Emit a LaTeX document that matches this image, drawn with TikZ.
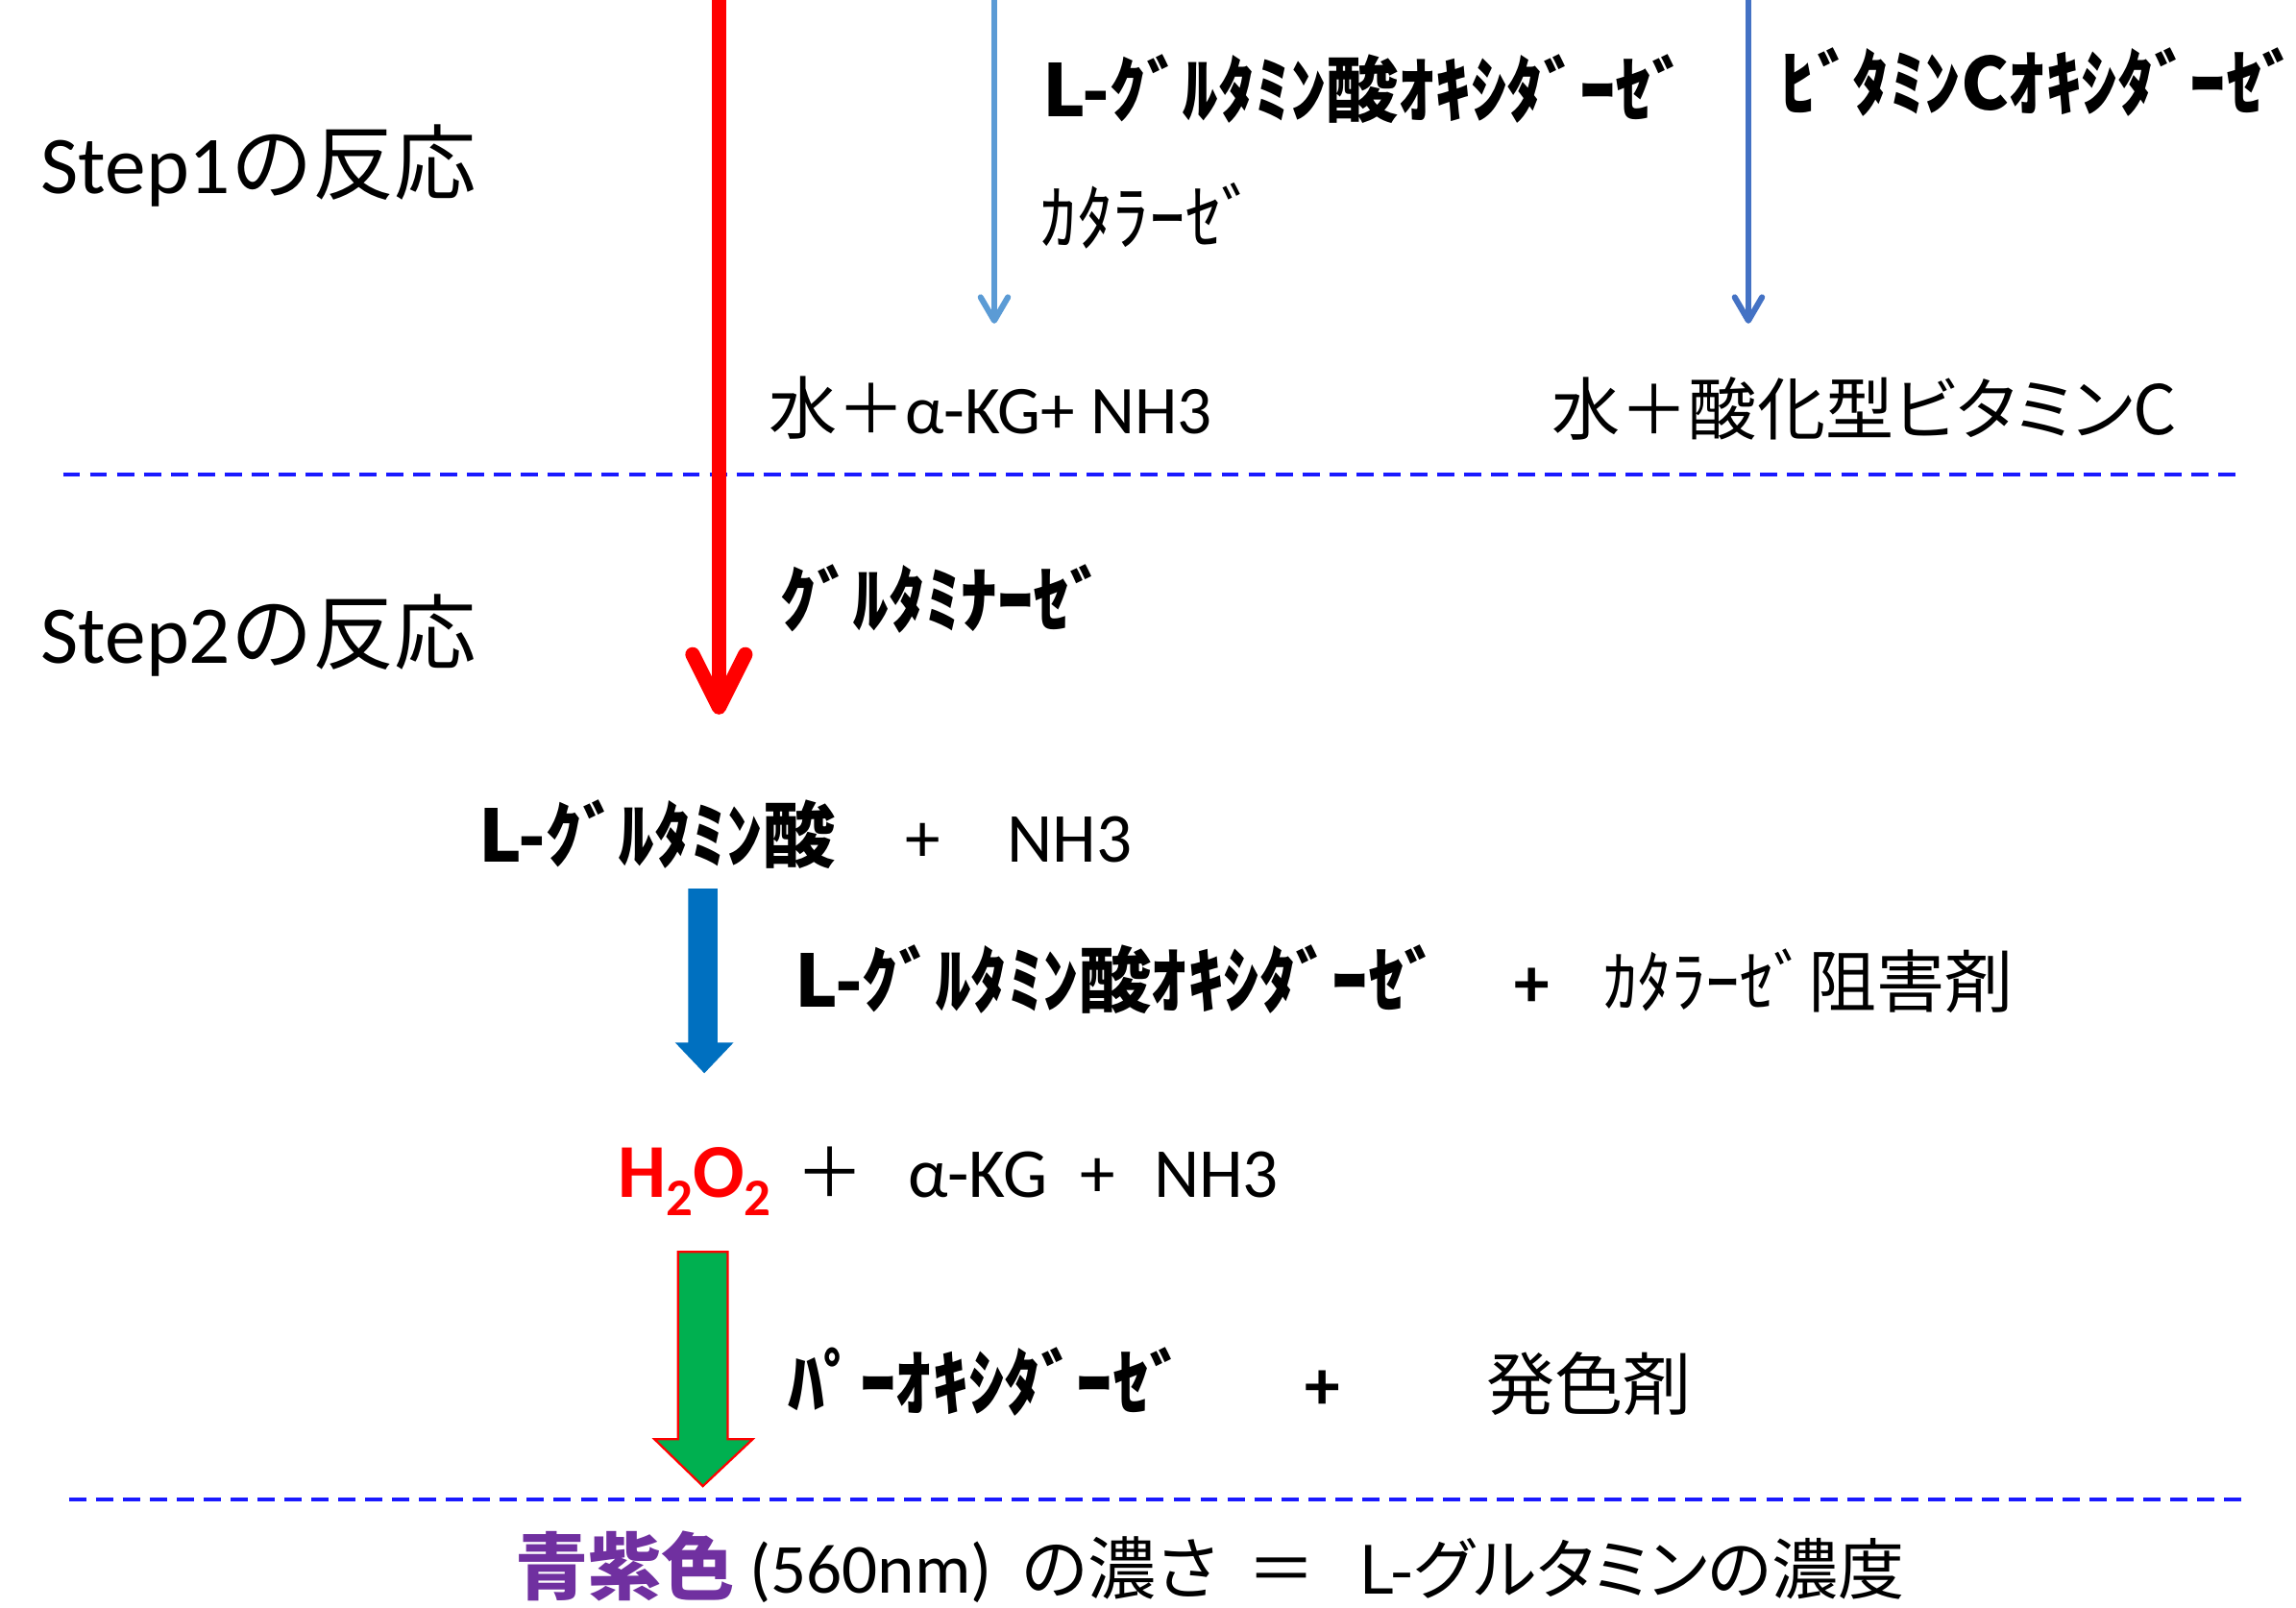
\documentclass[tikz,border=0pt]{standalone}
\usepackage{fontspec}
\setmainfont{Carlito}
\newfontfamily\jp{Noto Sans CJK JP}
\newfontfamily\jpp{Noto Sans CJK JP}[RawFeature=+palt]
\usetikzlibrary{arrows.meta}
\definecolor{arrRed}{HTML}{FF0000}
\definecolor{arrLBlue}{HTML}{5B9BD5}
\definecolor{arrDBlue}{HTML}{4472C4}
\definecolor{sepBlue}{HTML}{1A1AFF}
\definecolor{blockBlue}{HTML}{0070C0}
\definecolor{blockGreen}{HTML}{00B050}
\definecolor{violetTxt}{HTML}{7030A0}
\tikzset{
  txt/.style={inner sep=0pt, outer sep=0pt, anchor=base west},
  jpn/.style={txt, font=\fontsize{35}{40}\selectfont\jp},
  jpnk/.style={txt, font=\fontsize{37}{40}\selectfont\jp},
  jpnb/.style={txt, font=\fontsize{37}{40}\selectfont\jp\bfseries},
  lat/.style={txt, font=\fontsize{36}{40}\selectfont},
  latb/.style={txt, font=\fontsize{36}{40}\selectfont\bfseries},
  steplbl/.style={txt, font=\fontsize{42}{46}\selectfont},
  sepline/.style={sepBlue, line width=1.7pt, dash pattern=on 8.8pt off 5pt},
  thinarr/.style={line width=3pt, -{Straight Barb[length=12pt,width=14pt,round]}},
  bigarr/.style={arrRed, line width=7.5pt, -{Straight Barb[length=27pt,width=27pt,round]}},
}
\begin{document}
\begin{tikzpicture}[x=0.75pt,y=-0.75pt]
\useasboundingbox[fill=white] (0,0) rectangle (1568,1098);

% separators
\coordinate (s1a) at (43,324); \coordinate (s1b) at (1530,324);
\coordinate (s2a) at (47,1024); \coordinate (s2b) at (1535,1024);
\draw[sepline] (s1a) -- (s1b);
\draw[sepline] (s2a) -- (s2b);

% step labels
\node[steplbl] (step1) at (28,132) {Step1{\jp の反応}};
\node[steplbl] (step2) at (28,453) {Step2{\jp の反応}};

% step 1 texts
\node[jpnb] (lgoxTop) at (712,80) {L-ｸﾞﾙﾀﾐﾝ酸ｵｷｼﾀﾞｰｾﾞ};
\node[jpnk] (catTop) at (711,167) {ｶﾀﾗｰｾﾞ};
\node[jpnb] (vcox) at (1216,75) {ﾋﾞﾀﾐﾝCｵｷｼﾀﾞｰｾﾞ};
\node[jpn] (prod1) at (525,296) {水＋{\rmfamily α-KG+ NH3}};
\node[jpn] (prod2) at (1060,297) {水＋酸化型{\jpp ビタミン}C};

% arrows step 1
\coordinate (redTop) at (491,-6); \coordinate (redTip) at (491,488);
\coordinate (lbTop) at (679,-6); \coordinate (lbTip) at (679,221);
\coordinate (dbTop) at (1194,-6); \coordinate (dbTip) at (1194,221);
\draw[thinarr, arrLBlue] (lbTop) -- (lbTip);
\draw[thinarr, arrDBlue] (dbTop) -- (dbTip);
\draw[bigarr] (redTop) -- (redTip);

% step 2
\node[jpnb] (glnase) at (533,428) {ｸﾞﾙﾀﾐﾅｰｾﾞ};
\node[jpnb] (lglu) at (327,589) {L-ｸﾞﾙﾀﾐﾝ酸};
\node[lat, anchor=base] (plusA) at (630,589) {+};
\node[lat] (nh3A) at (688,589) {NH3};

\fill[blockBlue] (470,607) -- (490,607) -- (490,712) -- (501,712) -- (481,733)
  -- (461,712) -- (470,712) -- cycle;

\node[jpnb] (lgox2) at (543,688) {L-ｸﾞﾙﾀﾐﾝ酸ｵｷｼﾀﾞｰｾﾞ};
\node[latb, anchor=base] (plusB) at (1046,688) {+};
\node[jpn] (catinh) at (1095,688) {ｶﾀﾗｰｾﾞ阻害剤};

\node[txt, arrRed, font=\fontsize{39}{40}\selectfont\bfseries] (h2o2) at (422,818)
  {H\lower9pt\hbox{\fontsize{27}{30}\selectfont 2}O\lower9pt\hbox{\fontsize{27}{30}\selectfont 2}};
\node[jpn, anchor=base] (plusC) at (567,818) {＋};
\node[lat] (akg) at (620,818) {α-KG};
\node[lat, anchor=base] (plusD) at (750,818) {+};
\node[lat] (nh3B) at (788,818) {NH3};

\filldraw[fill=blockGreen, draw=arrRed, line width=1.1pt] (463,855) -- (497,855) -- (497,983)
  -- (514,983) -- (480,1015) -- (447,983) -- (463,983) -- cycle;

\node[jpnb] (perox) at (538,963) {ﾊﾟｰｵｷｼﾀﾞｰｾﾞ};
\node[latb, anchor=base] (plusE) at (903,963) {+};
\node[jpn] (chromo) at (1015,963) {発色剤};

% bottom line
\node[txt, violetTxt, font=\fontsize{37.5}{40}\selectfont\jp\bfseries] (bviolet) at (352,1089) {青紫色};
\node[lat] (nm) at (512,1088) {(560nm)};
\node[jpn] (koi) at (698,1089) {\jpp の濃さ};
\node[jpn, anchor=base] (eq) at (875,1089) {＝};
\node[txt, font=\fontsize{34}{40}\selectfont\jp] (conc) at (928,1089) {L-{\jpp グルタミンの}濃度};
\end{tikzpicture}
\end{document}
